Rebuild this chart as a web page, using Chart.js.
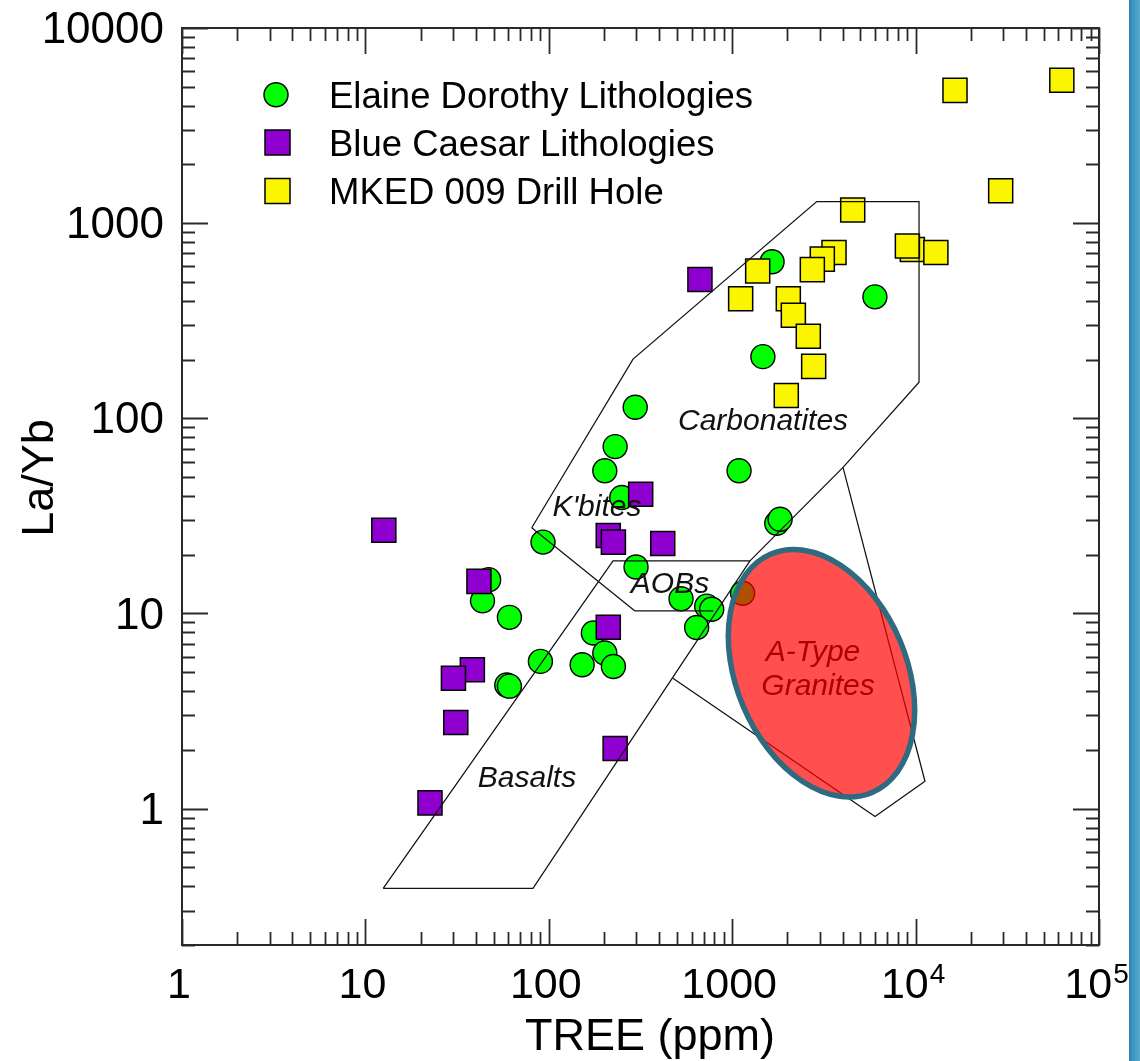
<!DOCTYPE html>
<html>
<head>
<meta charset="utf-8">
<script src="https://cdn.jsdelivr.net/npm/chart.js@4.4.1/dist/chart.umd.min.js"></script>
<style>
html,body{margin:0;padding:0;background:#fff;overflow:hidden}
canvas{display:block}
</style>
</head>
<body>
<canvas id="c" width="1140" height="1061"></canvas>
<script>
// ---------------- data ----------------
const seriesNames = ['Elaine Dorothy Lithologies', 'Blue Caesar Lithologies', 'MKED 009 Drill Hole'];

// Elaine Dorothy Lithologies (green circles)
const edX = [1650, 6000, 1470, 296, 230, 202, 250, 1090, 1750, 1825, 93, 299, 47, 43.5, 61, 526, 726, 773, 640, 1140, 175, 90, 59, 61, 152, 202, 225];
const edY = [634, 419, 207, 114, 71.6, 53.9, 39.3, 53.9, 29.0, 30.4, 23.2, 17.3, 14.9, 11.6, 9.55, 11.9, 10.9, 10.5, 8.47, 12.7, 7.94, 5.68, 4.30, 4.24, 5.46, 6.27, 5.35];

// Blue Caesar Lithologies (purple squares)
const bcX = [667, 12.6, 317, 211, 225, 418, 41.6, 211, 38.3, 30.2, 31.1, 230, 22.5];
const bcY = [514, 26.7, 40.8, 25.1, 23.2, 22.8, 14.6, 8.49, 5.14, 4.66, 2.76, 2.03, 1.07];

// MKED 009 Drill Hole (yellow squares)
const mkX = [16400, 62700, 29100, 4540, 9600, 9020, 12900, 3590, 3100, 2735, 1377, 1112, 2023, 2155, 2600, 2781, 1972];
const mkY = [4790, 5400, 1465, 1169, 733, 764, 708, 708, 654, 578, 568, 410, 410, 337, 263, 184.5, 131];

// discrimination field boundaries
const basaltX = [12.5, 82, 1250, 224, 12.5];
const basaltY = [0.39, 0.39, 18.6, 18.6, 0.39];
const aobX = [295, 790];
const aobY = [10.3, 10.3];
const kbitesX = [80.7, 295];
const kbitesY = [27.5, 10.3];
const carbX = [80.7, 288, 2890, 10440, 10440, 4020, 1250];
const carbY = [27.5, 201, 1290, 1290, 153, 56, 18.6];
const atypeX = [4020, 11250, 6010, 475];
const atypeY = [56, 1.38, 0.91, 4.66];

// field labels
const fieldLabels = ['Carbonatites', "K'bites", 'AOBs', 'Basalts'];
const fieldLabelX = [1473, 183, 458, 76];
const fieldLabelY = [96.5, 34.9, 14.0, 1.43];

// A-type granite ellipse (center in data units)
const granLabels = ['A-Type', 'Granites'];
const granLabelX = [2760, 2937];
const granLabelY = [6.27, 4.24];
const granCenterX = 3068;
const granCenterY = 4.94;

// axes
const xTickValues = [1, 10, 100, 1000, 10000, 100000];
const xTickLabels = ['1', '10', '100', '1000', '10^4', '10^5'];
const yTickValues = [1, 10, 100, 1000, 10000];
const yTickLabels = ['1', '10', '100', '1000', '10000'];
const xTitle = 'TREE (ppm)';
const yTitle = 'La/Yb';

// ---------------- helpers ----------------
const pts = (xs, ys) => xs.map((x, i) => ({x: x, y: ys[i]}));
const FONT = "'Liberation Sans', Arial, Helvetica, sans-serif";

function lineDs(xs, ys) {
  return {
    type: 'line', data: pts(xs, ys), showLine: true, fill: false, tension: 0,
    pointRadius: 0, borderColor: '#111', borderWidth: 1.25, order: 0
  };
}

const deco = {
  id: 'deco',
  beforeDraw(chart) {
    const ctx = chart.ctx;
    ctx.save();
    ctx.fillStyle = '#fff';
    ctx.fillRect(0, 0, chart.width, chart.height);
    const g = ctx.createLinearGradient(1129, 0, 1140, 0);
    g.addColorStop(0, '#2a7fae');
    g.addColorStop(0.3, '#3d93c0');
    g.addColorStop(1, '#56a9cf');
    ctx.fillStyle = g;
    ctx.fillRect(1129, 0, 11, chart.height);
    ctx.restore();
  },
  afterDatasetsDraw(chart) {
    const ctx = chart.ctx;
    const xs = chart.scales.x, ys = chart.scales.y;
    ctx.save();
    ctx.fillStyle = '#111';
    ctx.font = 'italic 30px ' + FONT;
    ctx.textAlign = 'center';
    ctx.textBaseline = 'middle';
    fieldLabels.forEach((t, i) => {
      ctx.fillText(t, xs.getPixelForValue(fieldLabelX[i]), ys.getPixelForValue(fieldLabelY[i]));
    });
    // ellipse
    const cx = xs.getPixelForValue(granCenterX), cy = ys.getPixelForValue(granCenterY);
    ctx.beginPath();
    ctx.ellipse(cx, cy, 85, 129.5, -23 * Math.PI / 180, 0, Math.PI * 2);
    ctx.fillStyle = 'rgba(255,0,0,0.69)';
    ctx.fill();
    ctx.lineWidth = 5.5;
    ctx.strokeStyle = '#2f6b80';
    ctx.stroke();
    ctx.fillStyle = '#b00000';
    granLabels.forEach((t, i) => {
      ctx.fillText(t, xs.getPixelForValue(granLabelX[i]), ys.getPixelForValue(granLabelY[i]));
    });
    ctx.restore();
  },
  afterDraw(chart) {
    const ctx = chart.ctx;
    const xs = chart.scales.x, ys = chart.scales.y;
    const {left, right, top, bottom} = chart.chartArea;
    ctx.save();
    // frame
    ctx.strokeStyle = '#2a2a2a';
    ctx.lineWidth = 2;
    ctx.strokeRect(left, top, right - left, bottom - top);
    // ticks
    ctx.lineWidth = 1.8;
    ctx.beginPath();
    for (let d = 0; d <= 5; d++) {
      for (let m = 1; m <= 9; m++) {
        const v = m * Math.pow(10, d);
        if (v > 100000 * 1.0001) break;
        const p = Math.round(xs.getPixelForValue(v)) + 0.5;
        const len = m === 1 ? 26 : 13;
        ctx.moveTo(p, bottom); ctx.lineTo(p, bottom - len);
        ctx.moveTo(p, top); ctx.lineTo(p, top + len);
      }
    }
    for (let d = -1; d <= 4; d++) {
      for (let m = 1; m <= 9; m++) {
        const v = m * Math.pow(10, d);
        if (v < 0.2 * 0.9999) continue;
        if (v > 10000 * 1.0001) break;
        const p = Math.round(ys.getPixelForValue(v)) + 0.5;
        const len = m === 1 ? 26 : 13;
        ctx.moveTo(left, p); ctx.lineTo(left + len, p);
        ctx.moveTo(right, p); ctx.lineTo(right - len, p);
      }
    }
    ctx.stroke();
    // tick labels
    ctx.fillStyle = '#000';
    ctx.textBaseline = 'alphabetic';
    xTickValues.forEach((v, i) => {
      const p = xs.getPixelForValue(v) - 3;
      const lab = xTickLabels[i];
      if (lab.indexOf('^') >= 0) {
        const [b, e] = lab.split('^');
        ctx.font = '43px ' + FONT;
        const wb = ctx.measureText(b).width;
        ctx.font = '28px ' + FONT;
        const we = ctx.measureText(e).width;
        const start = p - (wb + we) / 2;
        ctx.textAlign = 'left';
        ctx.font = '43px ' + FONT;
        ctx.fillText(b, start, 998);
        ctx.font = '28px ' + FONT;
        ctx.fillText(e, start + wb + 1, 983);
      } else {
        ctx.font = '43px ' + FONT;
        ctx.textAlign = 'center';
        ctx.fillText(lab, p, 998);
      }
    });
    ctx.font = '44px ' + FONT;
    ctx.textAlign = 'right';
    ctx.textBaseline = 'middle';
    yTickValues.forEach((v, i) => {
      ctx.fillText(yTickLabels[i], 164, ys.getPixelForValue(v) + 3);
    });
    // axis titles
    ctx.font = '45px ' + FONT;
    ctx.textAlign = 'center';
    ctx.textBaseline = 'alphabetic';
    ctx.fillText(xTitle, 650, 1050);
    ctx.save();
    ctx.translate(53, 478);
    ctx.rotate(-Math.PI / 2);
    ctx.fillText(yTitle, 0, 0);
    ctx.restore();
    // legend
    const rows = [94.7, 142.5, 191];
    const fills = ['#00ff00', '#8f00d0', '#fbf500'];
    ctx.lineWidth = 1.5;
    ctx.strokeStyle = '#000';
    rows.forEach((ry, i) => {
      ctx.fillStyle = fills[i];
      ctx.beginPath();
      if (i === 0) ctx.arc(276, ry, 12, 0, Math.PI * 2);
      else ctx.rect(265, ry - 12.5, 25, 25);
      ctx.fill();
      ctx.stroke();
      ctx.fillStyle = '#000';
      ctx.font = '36.5px ' + FONT;
      ctx.textAlign = 'left';
      ctx.textBaseline = 'alphabetic';
      ctx.fillText(seriesNames[i], 329, ry + 13.3);
    });
    ctx.restore();
  }
};

new Chart(document.getElementById('c'), {
  type: 'scatter',
  data: {
    datasets: [
      {label: seriesNames[2], data: pts(mkX, mkY), pointStyle: 'rect', pointRadius: 17,
       backgroundColor: '#fbf500', borderColor: '#000', borderWidth: 1.5, order: 1},
      {label: seriesNames[1], data: pts(bcX, bcY), pointStyle: 'rect', pointRadius: 17,
       backgroundColor: '#8f00d0', borderColor: '#000', borderWidth: 1.5, order: 2},
      {label: seriesNames[0], data: pts(edX, edY), pointStyle: 'circle', pointRadius: 12,
       backgroundColor: '#00ff00', borderColor: '#000', borderWidth: 1.4, order: 3},
      lineDs(basaltX, basaltY),
      lineDs(aobX, aobY),
      lineDs(kbitesX, kbitesY),
      lineDs(carbX, carbY),
      lineDs(atypeX, atypeY)
    ]
  },
  options: {
    responsive: false,
    devicePixelRatio: 1,
    animation: false,
    events: [],
    layout: {padding: {left: 182, right: 41, top: 28, bottom: 116}},
    scales: {
      x: {type: 'logarithmic', min: 1, max: 100000, display: false},
      y: {type: 'logarithmic', min: 0.2, max: 10000, display: false}
    },
    plugins: {legend: {display: false}, tooltip: {enabled: false}}
  },
  plugins: [deco]
});
</script>
</body>
</html>
